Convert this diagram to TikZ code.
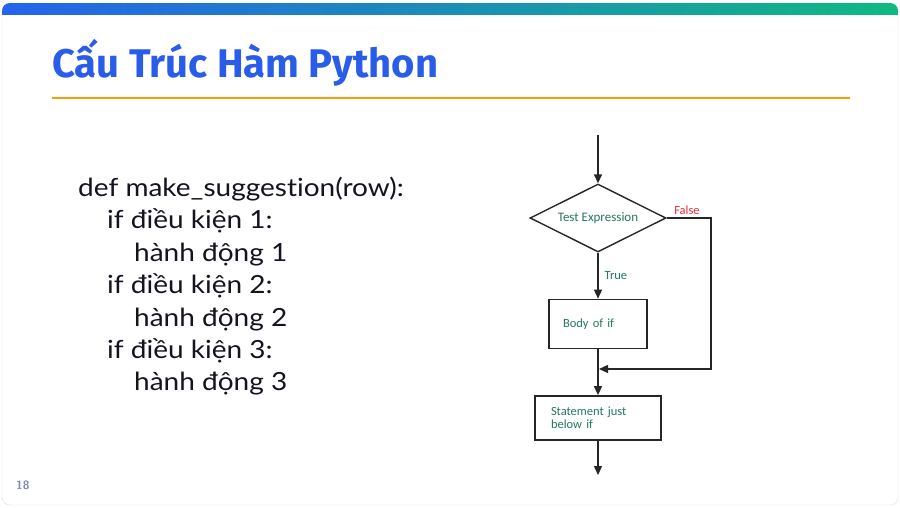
\documentclass[tikz,border=0pt]{standalone}
\usepackage{fontspec}
\setmainfont[Ligatures=NoCommon, FakeStretch=1.12]{Lato}
\newfontfamily\titlefont{Fira Sans}
\newfontfamily\chartfont{Carlito}
\usetikzlibrary{shapes.geometric, arrows.meta, positioning}
\definecolor{SlideBlue}{RGB}{41, 92, 232}
\definecolor{BarBlue}{RGB}{37, 99, 235}
\definecolor{BarGreen}{RGB}{16, 185, 129}
\definecolor{RuleOrange}{RGB}{245, 158, 11}
\definecolor{ChartGreen}{RGB}{36, 120, 92}
\definecolor{ChartRed}{RGB}{228, 48, 64}
\definecolor{PageGray}{RGB}{125, 140, 170}
\definecolor{CodeInk}{RGB}{20, 20, 30}

\begin{document}
\begin{tikzpicture}[
    x=1pt, y=-1pt,
    every node/.style={inner sep=0pt},
    decision/.style={diamond, draw=black!85, line width=1.4pt, aspect=2, minimum width=136pt, minimum height=68pt, font=\chartfont\fontsize{13}{15}\selectfont, text=ChartGreen},
    block/.style={rectangle, draw=black!85, line width=1.4pt, inner xsep=14pt, align=left, font=\chartfont\fontsize{12.5}{13}\selectfont, text=ChartGreen},
    flow/.style={-{Triangle[length=9pt, width=8pt]}, draw=black!85, line width=1.4pt},
    branch/.style={font=\chartfont\fontsize{12.5}{14}\selectfont},
    codeline/.style={anchor=base west, font=\fontsize{25}{28}\selectfont, text=CodeInk}
  ]
    \useasboundingbox (0,0) rectangle (900,507);
    \fill[white] (0,0) rectangle (900,507);
    \draw[black!12, rounded corners=8pt] (2,3) rectangle (898,505);

    % Header
    \begin{scope}
      \clip (0,0) rectangle (900,14);
      \shade[left color=BarBlue, right color=BarGreen, rounded corners=8pt] (2,3) rectangle (898,30);
    \end{scope}
    \node[anchor=base west, font=\titlefont\bfseries\fontsize{40}{44}\selectfont, text=SlideBlue] (title) at (52,77) {Cấu Trúc Hàm Python};
    \draw[RuleOrange, line width=2.5pt] (52,98) -- (850,98);

    % Code
    \foreach \i/\ind/\txt in {1/0/def make\_suggestion(row):, 2/29/if điều kiện 1:, 3/56/hành động 1,
        4/29/if điều kiện 2:, 5/56/hành động 2, 6/29/if điều kiện 3:, 7/56/hành động 3}
      \node[codeline] (code\i) at (78+\ind, 164+32.4*\i) {\txt};

    % Flowchart
    \coordinate (start) at (598,135);
    \node[decision] (test) at (598,218) {Test Expression};
    \node[block, below=46pt of test, minimum width=98pt, minimum height=49pt, text width=70pt] (body) {Body of if};
    \node[block, below=46pt of body, minimum width=126pt, minimum height=44pt, inner xsep=16pt, text width=94pt] (stmt) {Statement just\\below if};
    \coordinate (stop) at (598,475);
    \coordinate (rside) at (711,369);
    \coordinate (merge) at (599,369);

    \draw[flow] (start) -- (test);
    \draw[flow] (test) -- (body) node[branch, midway, right=6pt, text=ChartGreen] (truelbl) {True};
    \draw[flow] (body) -- (stmt);
    \draw[flow] (stmt) -- (stop);
    \draw[flow] (test.east) -| (rside) -- (merge);
    \node[branch, text=ChartRed] (falselbl) at (687,210) {False};

    \node[anchor=base west, font=\sffamily\bfseries\fontsize{12}{14}\selectfont, text=PageGray] (page) at (16,489) {18};
  \end{tikzpicture}
\end{document}
